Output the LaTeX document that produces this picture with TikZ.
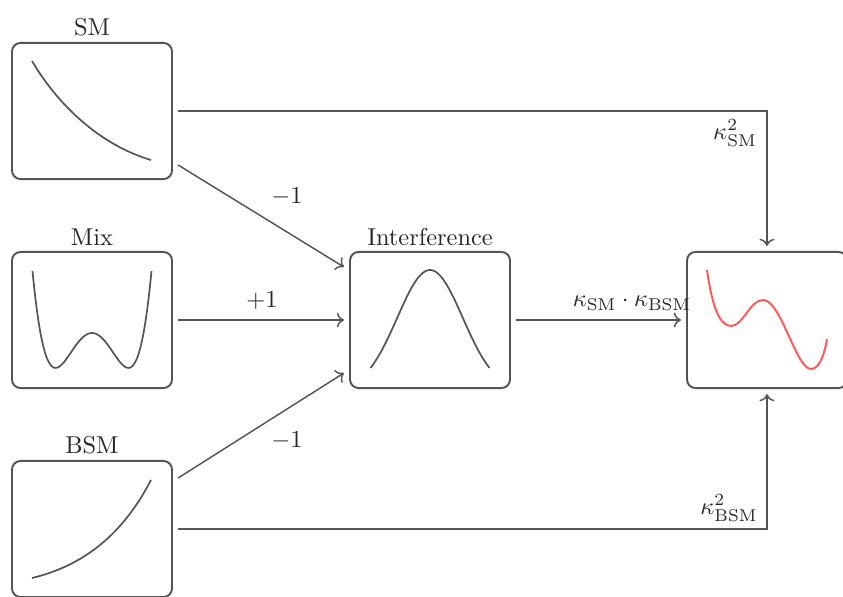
\documentclass[tikz,border=0pt]{standalone}
\usetikzlibrary{calc,arrows.meta}
\definecolor{lc}{RGB}{85,85,85}
\definecolor{rc}{RGB}{255,90,90}
\begin{document}
\begin{tikzpicture}[x=0.41pt,y=-0.41pt,
  panel/.style={draw=lc, line width=0.8pt, rounded corners=3.5pt, minimum width=65.6pt, minimum height=55.8pt, outer sep=2.5pt, inner sep=0pt},
  conn/.style={draw=lc, line width=0.6pt, ->},
  curve/.style={draw=lc, line width=0.7pt},
  title/.style={text=black!85, inner sep=0pt},
  lab/.style={text=black!85, inner sep=0pt}]
\useasboundingbox (0,0) rectangle (843,596);
% panels
\node[panel] (sm)  at (92,111) {};
\node[panel] (mix) at (92,320) {};
\node[panel] (bsm) at (92,529) {};
\node[panel] (int) at (430,320) {};
\node[panel] (res) at (767,320) {};
% titles
\node[title] (tsm)  at (92,27)  {SM};
\node[title] (tmix) at (92,237) {Mix};
\node[title] (tbsm) at (92,445) {BSM};
\node[title] (tint) at (430,237) {Interference};
% curves
\draw[curve] (32,61) .. controls (58,105) and (100,145) .. (151,160);
\draw[curve] (32,578) .. controls (82,566) and (122,536) .. (151,480);
\draw[curve] plot[domain=-1:1, samples=80, smooth] ({92+59.5*\x}, {333-248.3*(\x*\x*\x*\x-0.75*\x*\x)});
\draw[curve] plot[domain=-1:1, samples=60, smooth] ({430+59.5*\x}, {391.2-121.2*exp(-1.653*\x*\x)});
\draw[rc, line width=0.8pt] (707,270) .. controls (712,305) and (719,326) .. (731,326)
  .. controls (743,326) and (750,300) .. (763,300)
  .. controls (781,300) and (796,369) .. (811,369)
  .. controls (820,369) and (825,352) .. (827,339);
% connectors
\draw[conn] (sm.east) -| (res.north);
\draw[conn] (bsm.east) -| (res.south);
\draw[conn] ($(sm.east)+(0,54)$) -- ($(int.west)+(0,-53)$);
\draw[conn] (mix.east) -- (int.west);
\draw[conn] ($(bsm.east)+(0,-51)$) -- ($(int.west)+(0,53)$);
\draw[conn] (int.east) -- (res.west);
% labels
\node[lab] (l1) at (287,197) {$-1$};
\node[lab] (l2) at (262,301) {$+1$};
\node[lab] (l3) at (287,441) {$-1$};
\node[lab] (l4) at (632,303) {$\kappa_{\mathrm{SM}}\cdot\kappa_{\mathrm{BSM}}$};
\node[lab] (l5) at (735,133) {$\kappa^2_{\mathrm{SM}}$};
\node[lab] (l6) at (729,508) {$\kappa^2_{\mathrm{BSM}}$};
\end{tikzpicture}
\end{document}
